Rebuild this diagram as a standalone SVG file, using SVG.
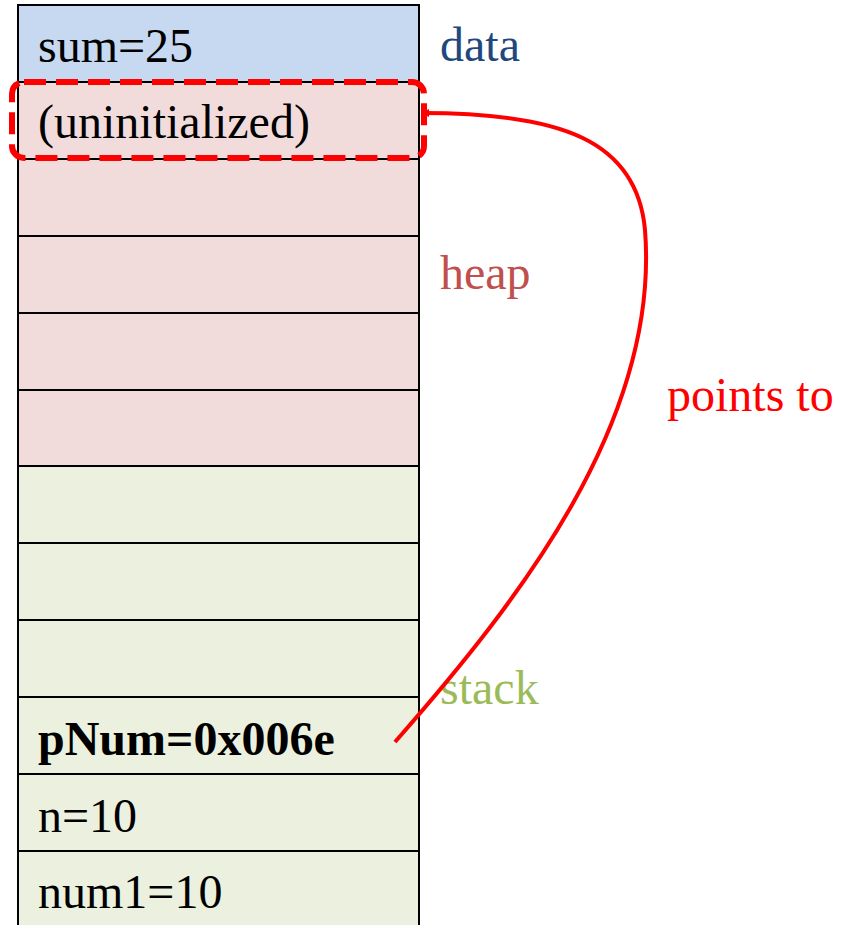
<svg xmlns="http://www.w3.org/2000/svg" width="845" height="925" viewBox="0 0 845 925">
<defs>
<style>
.cell{stroke:#000;stroke-width:2}
.data{fill:#c6d9f1}
.heap{fill:#f2dcdb}
.stack{fill:#ebf1de}
.t{font-family:"Liberation Serif","Times New Roman",serif;font-size:48px;fill:#000}
.b{font-weight:bold}
.lbl{font-family:"Liberation Serif","Times New Roman",serif;font-size:48px}
</style>
<marker id="ah" markerWidth="8" markerHeight="8" refX="7" refY="4" orient="auto" markerUnits="userSpaceOnUse" viewBox="0 0 8 8">
<path d="M0,0 L8,4 L0,8 z" fill="#ff0000"/>
</marker>
</defs>
<rect width="845" height="925" fill="#fff"/>
<g id="cell-data"><rect class="cell data" x="18" y="5" width="401" height="77"/><text class="t" x="38" y="62">sum=25</text></g>
<g id="cell-heap1"><rect class="cell heap" x="18" y="82" width="401" height="77"/><text class="t" x="38" y="138">(uninitialized)</text></g>
<g id="cell-heap2"><rect class="cell heap" x="18" y="159" width="401" height="77"/></g>
<g id="cell-heap3"><rect class="cell heap" x="18" y="236" width="401" height="77"/></g>
<g id="cell-heap4"><rect class="cell heap" x="18" y="313" width="401" height="77"/></g>
<g id="cell-heap5"><rect class="cell heap" x="18" y="390" width="401" height="76"/></g>
<g id="cell-stack1"><rect class="cell stack" x="18" y="466" width="401" height="77"/></g>
<g id="cell-stack2"><rect class="cell stack" x="18" y="543" width="401" height="77"/></g>
<g id="cell-stack3"><rect class="cell stack" x="18" y="620" width="401" height="77"/></g>
<g id="cell-pnum"><rect class="cell stack" x="18" y="697" width="401" height="77"/><text class="t b" x="38" y="755">pNum=0x006e</text></g>
<g id="cell-n"><rect class="cell stack" x="18" y="774" width="401" height="77"/><text class="t" x="38" y="832">n=10</text></g>
<g id="cell-num1"><rect class="cell stack" x="18" y="851" width="401" height="80"/><text class="t" x="38" y="908">num1=10</text></g>
<g id="highlight"><rect x="12" y="82" width="412" height="76" rx="12" fill="none" stroke="#ff0000" stroke-width="6" stroke-dasharray="22 10"/></g>
<g id="labels">
<text class="lbl" x="440" y="61" fill="#1f497d">data</text>
<text class="lbl" x="440" y="289" fill="#c0504d">heap</text>
<text class="lbl" x="440" y="704" fill="#9bbb59">stack</text>
<text class="lbl" x="667" y="411" fill="#ff0000">points to</text>
</g>
<g id="connectors">
<path d="M395,742 C520,600 660,420 645,230 C637,140 560,113 422,113" fill="none" stroke="#ff0000" stroke-width="4" marker-end="url(#ah)"/>
</g>
</svg>
